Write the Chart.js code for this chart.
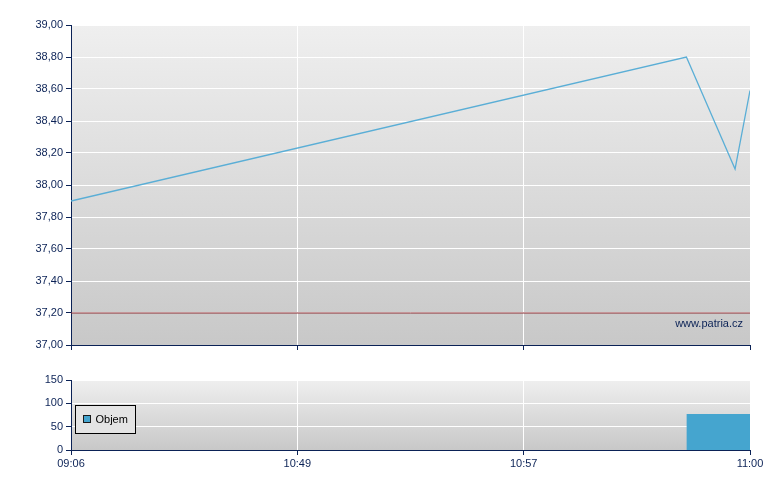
<!DOCTYPE html>
<html>
<head>
<meta charset="utf-8">
<script src="https://cdn.jsdelivr.net/npm/chart.js@4/dist/chart.umd.min.js"></script>
<style>
  html, body { margin: 0; padding: 0; background: #ffffff; }
  #wrap { position: relative; width: 780px; height: 490px; }
  canvas { position: absolute; left: 0; }
  #c1 { top: 0; }
  #c2 { top: 370px; }
</style>
</head>
<body>
<div id="wrap">
  <canvas id="c1" width="780" height="370"></canvas>
  <canvas id="c2" width="780" height="120"></canvas>
</div>
<script>
// ---- data ----
const timeLabels = ['09:06', '10:49', '10:57', '11:00'];
const priceX = [0, 2.719, 2.934, 3];
const priceY = [37.90, 38.80, 38.10, 38.59];
const refPrice = [37.20];
const volumeX = [2.719, 3];
const volumeY = [77, 77];
const volumeLabel = 'Objem';
const watermark = 'www.patria.cz';

// ---- styles ----
const NAVY = '#0b2256';
const FONT = { family: '"Liberation Sans", Arial, sans-serif', size: 11 };

const bgPlugin = {
  id: 'bgGrad',
  beforeDraw(chart) {
    const { ctx, chartArea: a } = chart;
    const g = ctx.createLinearGradient(0, a.top, 0, a.bottom);
    g.addColorStop(0, '#efefef');
    g.addColorStop(1, '#c8c8c8');
    ctx.save();
    ctx.fillStyle = g;
    ctx.fillRect(a.left, a.top, a.right - a.left, a.bottom - a.top);
    ctx.restore();
  }
};

const watermarkPlugin = {
  id: 'wm',
  afterDraw(chart) {
    const { ctx, chartArea: a } = chart;
    ctx.save();
    ctx.font = '11px "Liberation Sans", Arial, sans-serif';
    ctx.fillStyle = NAVY;
    ctx.textAlign = 'right';
    ctx.textBaseline = 'alphabetic';
    ctx.fillText(watermark, a.right - 7, a.bottom - 18);
    ctx.restore();
  }
};

const legendBoxPlugin = {
  id: 'legendBox',
  afterDraw(chart) {
    const { ctx, chartArea: a } = chart;
    const ds = chart.data.datasets[0];
    const x = a.left + 4.5, y = a.top + 25.5, w = 60, h = 28;
    ctx.save();
    ctx.fillStyle = '#e4e4e4';
    ctx.fillRect(x, y, w, h);
    ctx.strokeStyle = '#000000';
    ctx.lineWidth = 1;
    ctx.strokeRect(x, y, w, h);
    ctx.fillStyle = ds.backgroundColor;
    ctx.fillRect(x + 8, y + 10, 7, 7);
    ctx.strokeStyle = '#1a1a1a';
    ctx.strokeRect(x + 8, y + 10, 7, 7);
    ctx.font = '11px "Liberation Sans", Arial, sans-serif';
    ctx.fillStyle = '#000000';
    ctx.textBaseline = 'middle';
    ctx.textAlign = 'left';
    ctx.fillText(ds.label, x + 20, y + 14.5);
    ctx.restore();
  }
};

const fmtPrice = v => Number(v).toFixed(2).replace('.', ',');

// ---- price chart ----
new Chart(document.getElementById('c1'), {
  type: 'line',
  data: {
    datasets: [
      {
        label: 'Cena',
        data: priceX.map((x, i) => ({ x: x, y: priceY[i] })),
        borderColor: '#5aaed6',
        borderWidth: 1.3,
        pointRadius: 0,
        tension: 0,
        fill: false
      },
      {
        label: 'ref',
        data: [{ x: 0, y: refPrice[0] }, { x: timeLabels.length - 1, y: refPrice[0] }],
        borderColor: '#8a2a30',
        borderWidth: 1,
        pointRadius: 0,
        fill: false
      }
    ]
  },
  options: {
    responsive: false,
    animation: false,
    devicePixelRatio: 1,
    layout: { padding: { left: 0, right: 30, top: 25, bottom: 0 } },
    plugins: { legend: { display: false }, tooltip: { enabled: false } },
    scales: {
      x: {
        type: 'linear', min: 0, max: timeLabels.length - 1,
        afterFit(s) { s.height = 25; },
        ticks: { display: false, stepSize: 1 },
        grid: { color: '#ffffff', tickColor: NAVY, tickLength: 5, lineWidth: 1 },
        border: { color: NAVY, width: 1 }
      },
      y: {
        min: 37, max: 39,
        afterFit(s) { s.width = 71; },
        ticks: { stepSize: 0.2, callback: fmtPrice, font: FONT, color: NAVY, padding: 3 },
        grid: { color: '#ffffff', tickColor: NAVY, tickLength: 5, lineWidth: 1 },
        border: { color: NAVY, width: 1 }
      }
    }
  },
  plugins: [bgPlugin, watermarkPlugin]
});

// ---- volume chart ----
new Chart(document.getElementById('c2'), {
  type: 'line',
  data: {
    datasets: [
      {
        label: volumeLabel,
        data: volumeX.map((x, i) => ({ x: x, y: volumeY[i] })),
        borderColor: '#45a5cf',
        backgroundColor: '#45a5cf',
        borderWidth: 0,
        pointRadius: 0,
        fill: 'origin',
        tension: 0
      }
    ]
  },
  options: {
    responsive: false,
    animation: false,
    devicePixelRatio: 1,
    layout: { padding: { left: 0, right: 30, top: 10, bottom: 0 } },
    plugins: { legend: { display: false }, tooltip: { enabled: false } },
    scales: {
      x: {
        type: 'linear', min: 0, max: timeLabels.length - 1,
        afterFit(s) { s.height = 40; },
        ticks: { stepSize: 1, callback: v => timeLabels[v] ?? '', font: FONT, color: NAVY, padding: 2, maxRotation: 0, autoSkip: false },
        grid: { color: '#ffffff', tickColor: NAVY, tickLength: 5, lineWidth: 1 },
        border: { color: NAVY, width: 1 }
      },
      y: {
        min: 0, max: 150,
        afterFit(s) { s.width = 71; },
        ticks: { stepSize: 50, font: FONT, color: NAVY, padding: 3 },
        grid: { color: '#ffffff', tickColor: NAVY, tickLength: 5, lineWidth: 1 },
        border: { color: NAVY, width: 1 }
      }
    }
  },
  plugins: [bgPlugin, legendBoxPlugin]
});
</script>
</body>
</html>
